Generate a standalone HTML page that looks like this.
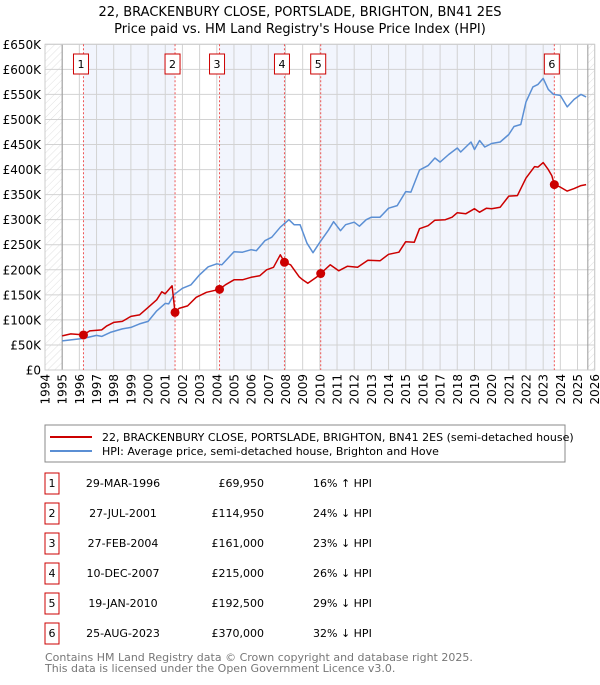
<!DOCTYPE html>
<html><head><meta charset="utf-8">
<style>
body{margin:0;background:#fff;font-family:"Liberation Sans","DejaVu Sans",sans-serif;}
svg text{font-family:"DejaVu Sans","Liberation Sans",sans-serif;}
</style></head>
<body>
<svg id="chart" width="600" height="680" viewBox="0 0 600 680" xmlns="http://www.w3.org/2000/svg">
<defs>
<pattern id="hatch" width="5" height="5" patternUnits="userSpaceOnUse" patternTransform="rotate(45)">
<line x1="0" y1="0" x2="0" y2="5" stroke="#d8d8d8" stroke-width="0.8"/>
</pattern>
</defs>
<text x="300" y="16" text-anchor="middle" font-size="13">22, BRACKENBURY CLOSE, PORTSLADE, BRIGHTON, BN41 2ES</text>
<text x="300" y="33" text-anchor="middle" font-size="13">Price paid vs. HM Land Registry's House Price Index (HPI)</text>
<g id="plot"></g>
<g>
<rect x="45" y="425" width="520" height="37" fill="#fff" stroke="#888" stroke-width="1"/>
<line x1="50" y1="437" x2="92" y2="437" stroke="#cc0000" stroke-width="2"/>
<text x="102" y="441" font-size="11">22, BRACKENBURY CLOSE, PORTSLADE, BRIGHTON, BN41 2ES (semi-detached house)</text>
<line x1="50" y1="451" x2="92" y2="451" stroke="#5b8fd4" stroke-width="2"/>
<text x="102" y="455" font-size="11">HPI: Average price, semi-detached house, Brighton and Hove</text>
</g>
<g id="table"></g>
<text x="45" y="661" font-size="11" fill="#777">Contains HM Land Registry data © Crown copyright and database right 2025.</text>
<text x="45" y="672" font-size="11" fill="#777">This data is licensed under the Open Government Licence v3.0.</text>
</svg>
<script>
const yTicks=[0,50,100,150,200,250,300,350,400,450,500,550,600,650];
const yTickLabels=["£0","£50K","£100K","£150K","£200K","£250K","£300K","£350K","£400K","£450K","£500K","£550K","£600K","£650K"];
const years=[1994,1995,1996,1997,1998,1999,2000,2001,2002,2003,2004,2005,2006,2007,2008,2009,2010,2011,2012,2013,2014,2015,2016,2017,2018,2019,2020,2021,2022,2023,2024,2025,2026];
const saleDates=[1996.24,2001.57,2004.16,2007.94,2010.05,2023.65];
const salePrices=[69.95,114.95,161,215,192.5,370];
const saleDateLabels=["29-MAR-1996","27-JUL-2001","27-FEB-2004","10-DEC-2007","19-JAN-2010","25-AUG-2023"];
const salePriceLabels=["£69,950","£114,950","£161,000","£215,000","£192,500","£370,000"];
const saleHpiLabels=["16% ↑ HPI","24% ↓ HPI","23% ↓ HPI","26% ↓ HPI","29% ↓ HPI","32% ↓ HPI"];
const hpiT=[1995,1996,1996.5,1997,1997.3,1997.8,1998.5,1999,1999.5,2000,2000.5,2001,2001.2,2001.5,2002,2002.5,2003,2003.5,2004,2004.3,2005,2005.5,2006,2006.3,2006.8,2007.2,2007.7,2008.2,2008.5,2008.85,2009.25,2009.6,2010,2010.5,2010.8,2011.2,2011.5,2012,2012.3,2012.7,2013,2013.5,2014,2014.5,2015,2015.3,2015.8,2016.3,2016.7,2017,2017.5,2018,2018.2,2018.8,2019,2019.3,2019.6,2020,2020.5,2021,2021.3,2021.7,2022,2022.4,2022.7,2023,2023.3,2023.6,2024,2024.4,2024.8,2025.2,2025.5];
const hpiV=[58,62,65,69,67,75,82,85,92,97,118,133,132,150,163,170,190,206,212,210,236,235,240,238,258,265,285,300,290,290,253,234,255,279,296,278,290,295,287,300,305,305,323,328,356,355,399,408,423,415,430,443,435,455,440,458,445,452,455,470,486,490,535,565,570,582,560,550,548,525,540,550,545];
const propT=[1995,1995.5,1996.24,1996.6,1997.3,1997.6,1998,1998.5,1999,1999.5,2000,2000.5,2000.8,2001,2001.4,2001.57,2001.8,2002.3,2002.8,2003.4,2004.16,2004.5,2005,2005.5,2006,2006.5,2006.9,2007.3,2007.7,2007.94,2008.3,2008.8,2009,2009.3,2009.8,2010.05,2010.6,2011.1,2011.6,2012.2,2012.8,2013.5,2014,2014.6,2015,2015.5,2015.8,2016.3,2016.7,2017.3,2017.7,2018,2018.5,2019,2019.3,2019.7,2020,2020.5,2021,2021.5,2022,2022.5,2022.7,2023,2023.3,2023.5,2023.65,2024,2024.4,2024.8,2025.2,2025.5];
const propV=[68,72,70,78,80,88,95,97,107,110,125,140,156,152,168,115,123,128,145,155,161,170,180,180,185,188,200,205,230,215,210,186,180,173,185,192.5,210,198,207,205,219,218,231,235,256,255,282,288,299,300,305,314,312,322,315,323,322,325,347,348,383,406,405,414,400,388,370,365,357,362,368,370];

const NS="http://www.w3.org/2000/svg";
const X0=45,X1=594.7,Y0=370,Y1=44.3;
const xs=t=>X0+(t-1994)*(X1-X0)/32;
const ys=v=>Y0-v*(Y0-Y1)/650;
const plot=document.getElementById('plot');
function mk(tag,attrs,parent){const e=document.createElementNS(NS,tag);for(const k in attrs)e.setAttribute(k,attrs[k]);(parent||plot).appendChild(e);return e;}

let h1=mk('rect',{x:X0,y:Y1,width:xs(1995)-X0,height:Y0-Y1,fill:'url(#hatch)'});


let h2=mk('rect',{x:xs(2025.6),y:Y1,width:X1-xs(2025.6),height:Y0-Y1,fill:'url(#hatch)'});


for(let i=0;i<saleDates.length-1;i+=2){
  const r=mk('rect',{x:xs(saleDates[i]),y:Y1,width:xs(saleDates[i+1])-xs(saleDates[i]),height:Y0-Y1,fill:'#f2f5fd'});
  
  
}
years.forEach(y=>{const l=mk('line',{x1:xs(y),x2:xs(y),y1:Y1,y2:Y0,stroke:'#d2d2d2','stroke-width':1});

});
yTicks.forEach((v,i)=>{const l=mk('line',{x1:X0,x2:X1,y1:ys(v),y2:ys(v),stroke:'#d2d2d2','stroke-width':1});


const t=mk('text',{x:41,y:ys(v)+4.5,'text-anchor':'end','font-size':12});t.textContent=yTickLabels[i];

});
years.forEach(y=>{const t=mk('text',{transform:`translate(${xs(y)+4.5},374) rotate(-90)`,'text-anchor':'end','font-size':12});t.textContent=y;

});
let ax=mk('line',{x1:xs(1995),x2:xs(1995),y1:Y1,y2:Y0,stroke:'#999'});


let ax2=mk('line',{x1:xs(2025.6),x2:xs(2025.6),y1:Y1,y2:Y0,stroke:'#999'});


let fr=mk('rect',{x:X0,y:Y1,width:X1-X0,height:Y0-Y1,fill:'none',stroke:'#ccc'});


saleDates.forEach((d,i)=>{
  const l=mk('line',{x1:xs(d),x2:xs(d),y1:Y1,y2:Y0,stroke:'#ee5555','stroke-width':1,'stroke-dasharray':'2,2'});
  
  
  const bx=xs(d)-10;
  const b=mk('rect',{x:bx,y:54,width:15,height:20,fill:'#fff',stroke:'#cc0000'});
  
  
  const t=mk('text',{x:bx+7.5,y:68,'text-anchor':'middle','font-size':11});t.textContent=i+1;
  
  
});
function path(T,V,color,name){
  let d=T.map((t,i)=>(i?'L':'M')+xs(t).toFixed(1)+','+ys(V[i]).toFixed(1)).join('');
  const p=mk('path',{d:d,fill:'none',stroke:color,'stroke-width':1.5,'stroke-linejoin':'round'});
  
  
}
path(hpiT,hpiV,'#5b8fd4','hpi-line');
path(propT,propV,'#cc0000','property-price-line');
saleDates.forEach((d,i)=>{
  const c=mk('circle',{cx:xs(d),cy:ys(salePrices[i]),r:4.5,fill:'#cc0000'});
  
  
});
const tbl=document.getElementById('table');
saleDates.forEach((d,i)=>{
  const cy=483+i*30;
  const b=mk('rect',{x:45,y:cy-10,width:14,height:21,fill:'#fff',stroke:'#cc0000'},tbl);
  
  
  const n=mk('text',{x:52,y:cy+4,'text-anchor':'middle','font-size':11},tbl);n.textContent=i+1;
  
  
  const a=mk('text',{x:123,y:cy+4,'text-anchor':'middle','font-size':11},tbl);a.textContent=saleDateLabels[i];
  
  
  const p=mk('text',{x:264,y:cy+4,'text-anchor':'end','font-size':11},tbl);p.textContent=salePriceLabels[i];
  
  
  const h=mk('text',{x:313,y:cy+4,'font-size':11},tbl);h.textContent=saleHpiLabels[i];
  
  
});
</script>
</body></html>
